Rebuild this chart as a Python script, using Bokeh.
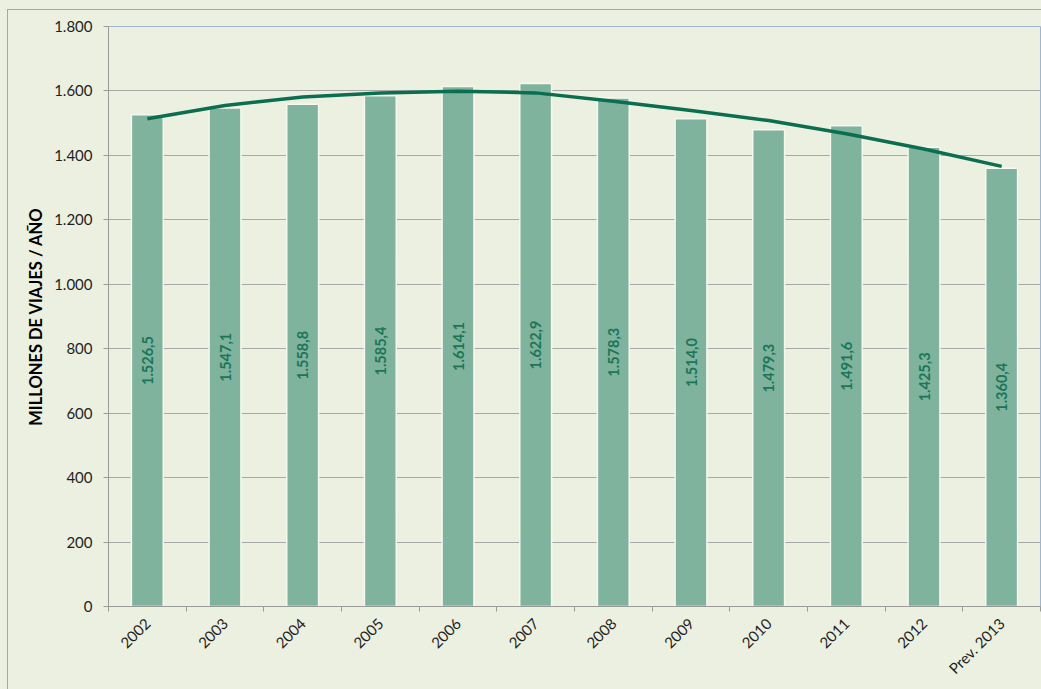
import math
from bokeh.plotting import figure
from bokeh.models import FixedTicker, ColumnDataSource
from bokeh.core.properties import value
from bokeh.embed import file_html
from bokeh.resources import INLINE

categories = ["2002", "2003", "2004", "2005", "2006", "2007", "2008",
              "2009", "2010", "2011", "2012", "Prev. 2013"]
viajes = [1526.5, 1547.1, 1558.8, 1585.4, 1614.1, 1622.9, 1578.3,
          1514.0, 1479.3, 1491.6, 1425.3, 1360.4]
# trend line values at each category
tendencia = [1514, 1555, 1581, 1594, 1599, 1594, 1568, 1539, 1508, 1467, 1420, 1366]
y_ticks = [0, 200, 400, 600, 800, 1000, 1200, 1400, 1600, 1800]
y_tick_labels = ["0", "200", "400", "600", "800", "1.000", "1.200", "1.400", "1.600", "1.800"]


def fmt(v):
    s = f"{v:,.1f}"
    return s.replace(",", "X").replace(".", ",").replace("X", ".")


xs = list(range(len(categories)))
src = ColumnDataSource(dict(
    x=xs, v=viajes, half=[v / 2 for v in viajes], lab=[fmt(v) for v in viajes],
    t=tendencia))

BG = "#ECF0E0"
W, H = 1041, 689
p = figure(width=W, height=H, output_backend="svg", toolbar_location=None,
           x_range=(-0.5, 11.5), y_range=(0, 1800),
           min_border_left=108, min_border_right=1, min_border_top=26,
           min_border_bottom=83)
p.background_fill_color = BG
p.border_fill_alpha = 0
p.outline_line_color = "#9FB6D3"
p.outline_line_width = 1
p.styles = {
    "background": ("linear-gradient(#A6A6A6,#A6A6A6) 7px 9px / 1px 100% no-repeat, "
                   "linear-gradient(#A6A6A6,#A6A6A6) 7px 9px / 100% 1px no-repeat, " + BG)
}

p.vbar(x="x", top="v", width=0.41, source=src, fill_color="#7FB39E",
       line_color="#F6F8EF", line_width=1.5)
p.line(x="x", y="t", source=src, line_color="#0C6E50", line_width=3.5)
p.text(x="x", y="half", text="lab", source=src, angle=math.pi / 2,
       text_align="center", text_baseline="middle", text_color="#1B7658",
       text_font=value("Lato"), text_font_style="bold", text_font_size="14.5px")

# x axis
p.xaxis.ticker = FixedTicker(ticks=xs, minor_ticks=[i - 0.5 for i in range(13)])
p.xaxis.major_label_overrides = {i: c for i, c in enumerate(categories)}
p.xaxis.major_tick_line_color = None
p.xaxis.minor_tick_in = 0
p.xaxis.minor_tick_out = 5
p.xaxis.minor_tick_line_color = "#9A9A9A"
p.xaxis.axis_line_color = "#9A9A9A"
p.xaxis.major_label_orientation = math.pi / 4
p.xaxis.major_label_text_font = "Lato"
p.xaxis.major_label_text_font_size = "15px"
p.xaxis.major_label_text_color = "#1E1E1E"
p.xaxis.major_label_standoff = 8
p.xgrid.grid_line_color = None

# y axis
p.yaxis.ticker = FixedTicker(ticks=y_ticks)
p.yaxis.major_label_overrides = {t: l for t, l in zip(y_ticks, y_tick_labels)}
p.yaxis.minor_tick_line_color = None
p.yaxis.major_tick_in = 0
p.yaxis.major_tick_out = 5
p.yaxis.major_tick_line_color = "#9A9A9A"
p.yaxis.axis_line_color = "#9A9A9A"
p.yaxis.major_label_text_font = "Lato"
p.yaxis.major_label_text_font_size = "15px"
p.yaxis.major_label_text_color = "#1E1E1E"
p.yaxis.major_label_standoff = 11
p.yaxis.axis_label = "MILLONES DE VIAJES / AÑO"
p.yaxis.axis_label_text_font = "Lato"
p.yaxis.axis_label_text_font_style = "bold"
p.yaxis.axis_label_text_font_size = "16.5px"
p.yaxis.axis_label_text_color = "#000000"
p.yaxis.axis_label_standoff = 5
p.ygrid.grid_line_color = "#A8A8A8"
p.ygrid.grid_line_width = 1

open("out.html", "w").write(file_html(p, INLINE))
